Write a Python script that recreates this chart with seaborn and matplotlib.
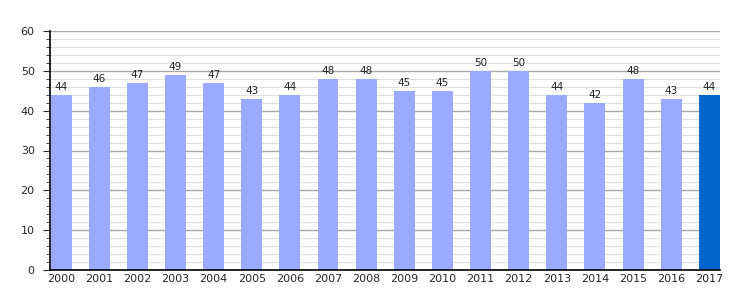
import matplotlib
matplotlib.use("Agg")
import matplotlib.pyplot as plt
import seaborn as sns
import pandas as pd
from matplotlib.ticker import MultipleLocator

years = [str(y) for y in range(2000, 2018)]
values = [44, 46, 47, 49, 47, 43, 44, 48, 48, 45, 45, 50, 50, 44, 42, 48, 43, 44]
colors = ["#99aaff"] * 17 + ["#0066cc"]

df = pd.DataFrame({"year": years, "value": values})

sns.set_style("white")
plt.rcParams['font.family'] = ['DejaVu Sans']

fig = plt.figure(figsize=(7.5, 3.0), dpi=100)
ax = fig.add_axes([50/750, 30/300, 670/750, 239/300])

sns.barplot(data=df, x="year", y="value", hue="year", palette=colors, legend=False,
            width=0.55, ax=ax, saturation=1, linewidth=0, edgecolor="none")

ax.set_ylim(0, 60)
ax.set_xlim(-0.29, 17.28)
ax.yaxis.set_major_locator(MultipleLocator(10))
ax.yaxis.set_minor_locator(MultipleLocator(2))
ax.grid(which="major", axis="y", color="#a8a8a8", linewidth=1)
ax.grid(which="minor", axis="y", color="#e0e0e0", linewidth=0.8)
ax.set_axisbelow(True)

for s in ["top", "right"]:
    ax.spines[s].set_visible(False)
for s in ["left", "bottom"]:
    ax.spines[s].set_color("black")
    ax.spines[s].set_linewidth(1.2)
    ax.spines[s].set_zorder(5)

ax.tick_params(axis="y", which="major", direction="out", length=5, left=True, labelsize=8, pad=6)
ax.tick_params(axis="y", which="minor", direction="out", length=3, left=True)
ax.tick_params(axis="x", length=0, labelsize=8, pad=3)
ax.set_xlabel("")
ax.set_ylabel("")

for i, v in enumerate(values):
    ax.text(i, v + 0.8, str(v), ha="center", va="bottom", fontsize=7.5, color="#222222")

fig.savefig("out.png", dpi=100)
